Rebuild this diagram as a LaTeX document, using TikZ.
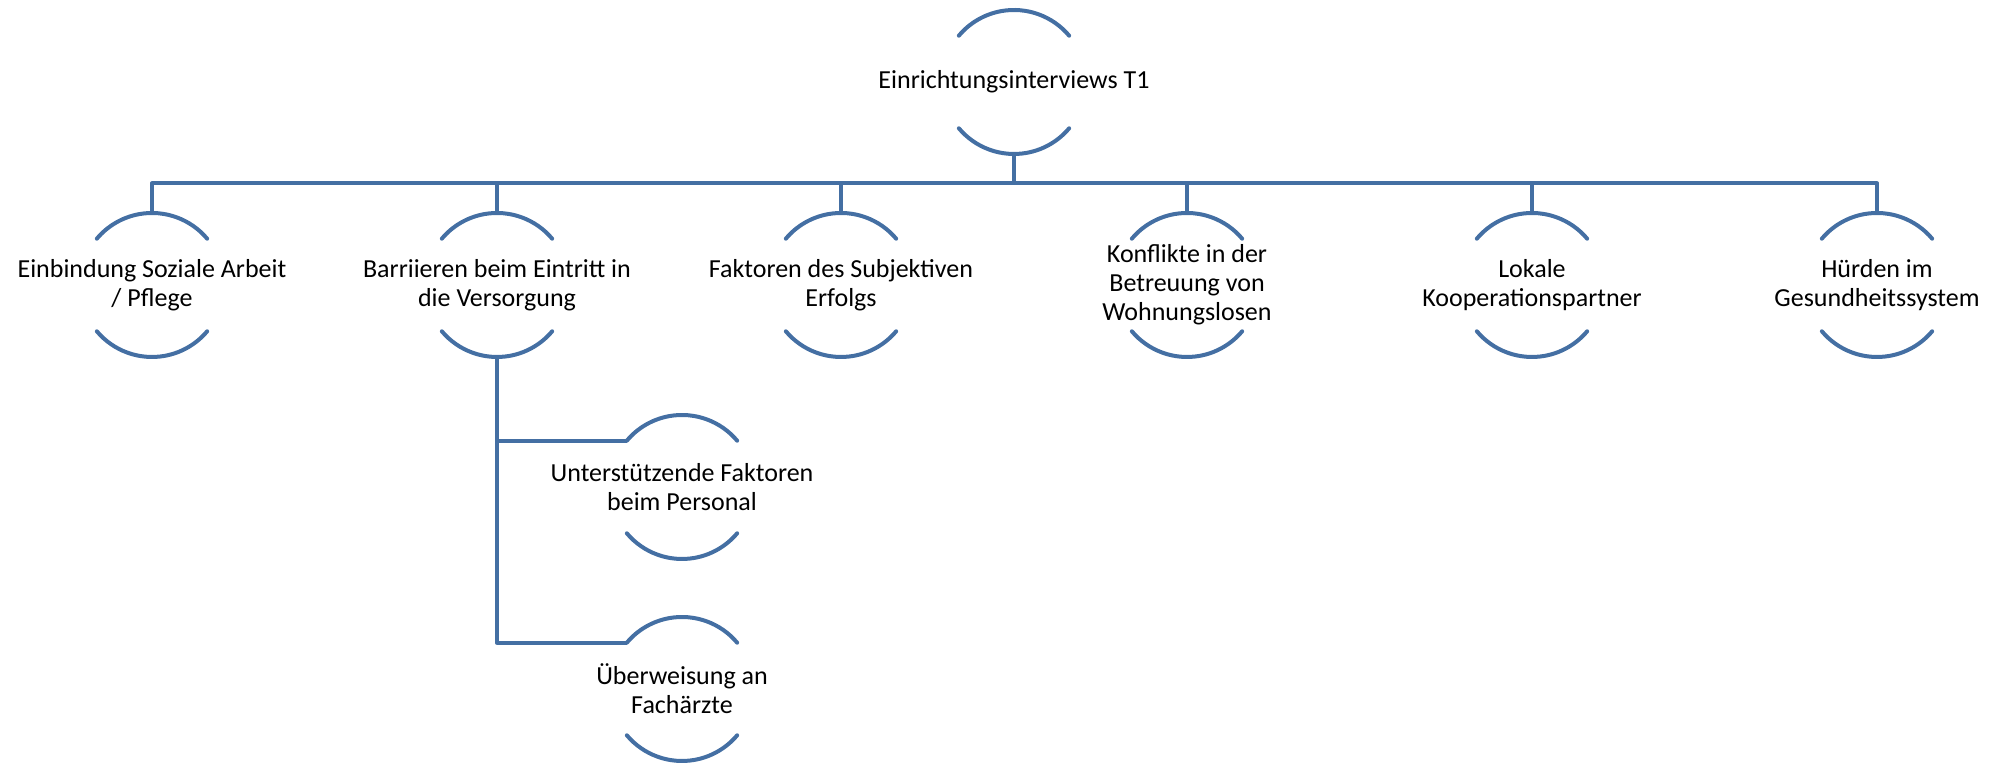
\documentclass[tikz,border=0pt]{standalone}
\usepackage{fontspec}
\setmainfont{Carlito}
\usepackage{xcolor}
\definecolor{colLine}{RGB}{68,111,163}
\usepackage{tikz}
\usetikzlibrary{positioning}
\newcommand{\arcR}{36pt}

\begin{document}
\begin{tikzpicture}[x=0.5pt, y=0.5pt,
		topic/.style={minimum width=72pt, minimum height=72pt, inner sep=0pt, align=center, font=\fontsize{13}{14.5}\selectfont},
		conn/.style={line width=2pt, colLine, line join=round},
		ring/.style={line width=2pt, colLine, line cap=round}]
			\useasboundingbox (0,0) rectangle (2004,763);
			\node[topic] (root) at (1014,681) {Einrichtungsinterviews T1};
			\node[topic] (cat1) at (152,478) {Einbindung Soziale Arbeit\\/ Pflege};
			\node[topic] (cat2) at (497,478) {Barriieren beim Eintritt in\\die Versorgung};
			\node[topic] (cat3) at (841,478) {Faktoren des Subjektiven\\Erfolgs};
			\node[topic] (cat4) at (1187,478) {Konflikte in der\\Betreuung von\\Wohnungslosen};
			\node[topic] (cat5) at (1532,478) {Lokale\\Kooperationspartner};
			\node[topic] (cat6) at (1877,478) {Hürden im\\Gesundheitssystem};
			\node[topic] (sub1) at (682,276) {Unterstützende Faktoren\\beim Personal};
			\node[topic] (sub2) at (682,74) {Überweisung an\\Fachärzte};
			% open circles round each topic
			\foreach \n in {root,cat1,cat2,cat3,cat4,cat5,cat6,sub1,sub2}
				\draw[ring] ([shift={(40:\arcR)}]\n.center) arc[start angle=40, end angle=140, radius=\arcR]
					([shift={(220:\arcR)}]\n.center) arc[start angle=220, end angle=320, radius=\arcR];
			\foreach \n in {cat1,cat2,cat3,cat4,cat5,cat6}
				\draw[conn] (root.south) -- ++(0,-29) -| (\n.north);
			\draw[conn] (cat2.south) |- ([shift={(140:\arcR)}]sub1.center);
			\draw[conn] (cat2.south) |- ([shift={(140:\arcR)}]sub2.center);
		\end{tikzpicture}
\end{document}
